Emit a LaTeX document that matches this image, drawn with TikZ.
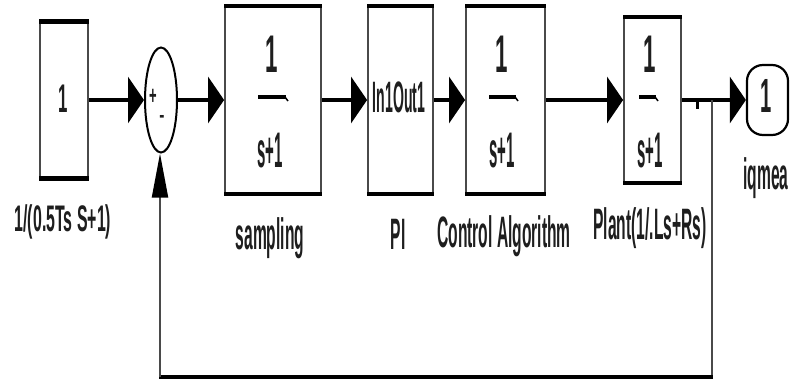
\documentclass[tikz,border=0pt]{standalone}
\usepackage{fontspec}
\setmainfont{Liberation Sans}
\usetikzlibrary{arrows.meta,shapes.geometric}
\definecolor{ink}{HTML}{1E1E1E}
\definecolor{side}{HTML}{4A4A4A}
% narrow bold text: font size, horizontal squeeze, text
\newcommand\nartxt[3]{\fontsize{#1}{#1}\selectfont\bfseries\scalebox{#2}[1]{#3}}
\tikzset{
  txt/.style={inner sep=0pt, anchor=base, text=ink},
  blk/.style={draw=side, line width=1.8pt, fill=white, inner sep=0pt},
  edge/.style={line width=4.5pt, draw=black},
  sig/.style={line width=3.5pt, -{Triangle[length=16pt,width=46pt]}},
  fbline/.style={line width=2pt, draw=side},
  fbarr/.style={line width=2pt, draw=side, -{Triangle[length=44pt,width=16pt,color=black,fill=black]}},
  frbar/.style={line width=3.5pt, draw=black},
}
\begin{document}
\begin{tikzpicture}[x=1pt,y=-1pt]
\useasboundingbox (0,0) rectangle (793,381);

% blocks
\node[blk, minimum width=48pt, minimum height=155pt] (src) at (64,100) {};
\node[draw=black, line width=2pt, ellipse, minimum width=32pt, minimum height=105pt, inner sep=0pt] (sum) at (161,100) {};
\node[blk, minimum width=96pt, minimum height=186pt] (samp) at (273,100) {};
\node[blk, minimum width=65pt, minimum height=186pt] (pi) at (400.5,100) {};
\node[blk, minimum width=79pt, minimum height=186pt] (ca) at (505.5,100) {};
\node[blk, minimum width=57pt, minimum height=164pt] (plant) at (652.5,100) {};
\node[draw=black, line width=2.2pt, rounded corners=16pt, minimum width=41pt, minimum height=70pt, inner sep=0pt] (out) at (767.5,100) {};

% heavy top and bottom edges of the blocks
\foreach \b in {src,samp,pi,ca,plant}{
  \draw[edge] (\b.north west) -- (\b.north east);
  \draw[edge] (\b.south west) -- (\b.south east);
}

% block contents
\node[txt] (srcval) at (63,112) {\nartxt{40pt}{0.42}{1}};
\node[txt] (sumplus) at (153,104) {\nartxt{26pt}{0.5}{+}};
\node[txt] (summinus) at (162,122) {\nartxt{22pt}{0.7}{-}};

\node[txt] (sampnum) at (272,72) {\nartxt{53pt}{0.42}{1}};
\draw[frbar] (258,97) -- (286,97) coordinate (sampbar);
\draw[line width=1.5pt] (285,97) -- (288,101);
\node[txt] (sampden) at (270,167) {\nartxt{50pt}{0.3}{s+1}};

\node[txt] (pitext) at (399,112) {\nartxt{44pt}{0.32}{In1Out1}};

\node[txt] (canum) at (502,72) {\nartxt{53pt}{0.42}{1}};
\draw[frbar] (489,97) -- (516,97) coordinate (cabar);
\draw[line width=1.5pt] (515,97) -- (518,101);
\node[txt] (caden) at (502,167) {\nartxt{50pt}{0.3}{s+1}};

\node[txt] (plnum) at (650,72) {\nartxt{53pt}{0.42}{1}};
\draw[frbar] (639,97) -- (656,97) coordinate (plbar);
\draw[line width=1.5pt] (655,97) -- (658,101);
\node[txt] (plden) at (650,167) {\nartxt{50pt}{0.3}{s+1}};

\node[txt] (outval) at (766,112) {\nartxt{48pt}{0.42}{1}};

% labels
\node[txt] (srclbl) at (63,231) {\nartxt{37pt}{0.43}{1/(0.5Ts S+1)}};
\node[txt] (samplbl) at (270,249) {\nartxt{44pt}{0.355}{sampling}};
\node[txt] (pilbl) at (398,249) {\nartxt{44pt}{0.355}{PI}};
\node[txt] (calbl) at (504,247) {\nartxt{44pt}{0.355}{Control Algorithm}};
\node[txt] (pllbl) at (650,239) {\nartxt{44pt}{0.355}{Plant(1/.Ls+Rs)}};
\node[txt] (outlbl) at (766,189) {\nartxt{44pt}{0.355}{iqmea}};

% forward path
\draw[sig] (src.east) -- (sum.west);
\draw[sig] (sum.east) -- (samp.west);
\draw[sig] (samp.east) -- (pi.west);
\draw[sig] (pi.east) -- (ca.west);
\draw[sig] (ca.east) -- (plant.west);
\draw[sig] (plant.east) -- (out.west);

% feedback path
\coordinate (br) at (712,100);
\coordinate (fbR) at (712,377);
\coordinate (fbL) at (160,377);
\draw[line width=3pt] (697,100) -- (697,109);
\draw[fbline] (br) -- (fbR);
\draw[line width=4pt] ([xshift=1pt]fbR) -- ([xshift=-1pt]fbL);
\draw[fbarr] (fbL) -- (fbL |- sum.south);
\end{tikzpicture}
\end{document}
